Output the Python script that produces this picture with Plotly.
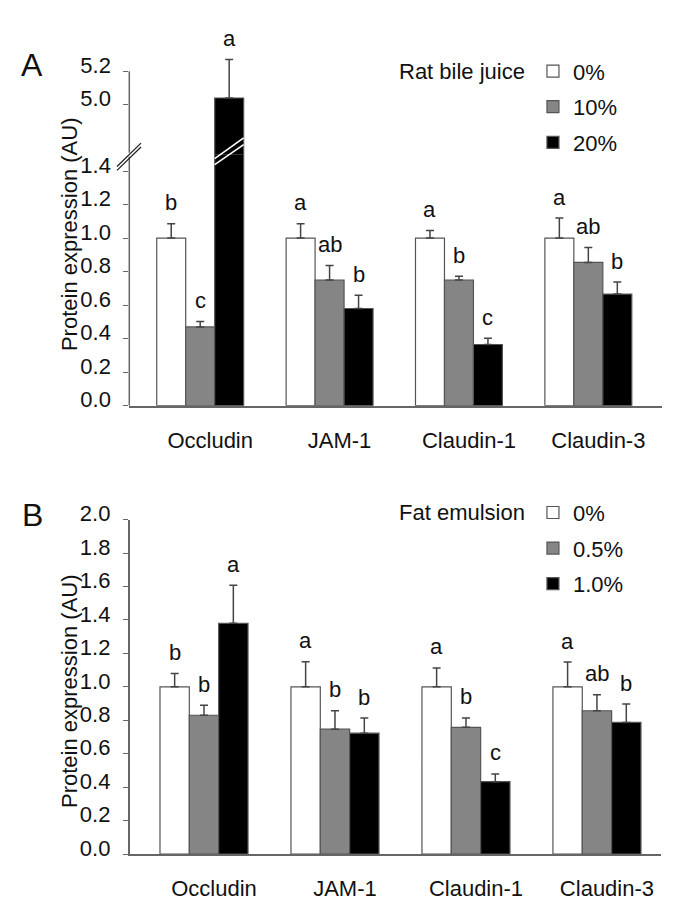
import plotly.graph_objects as go

# ---------------- data ----------------
categories = ["Occludin", "JAM-1", "Claudin-1", "Claudin-3"]

# Panel A : rat bile juice
a_title = "Rat bile juice"
a_groups = ["0%", "10%", "20%"]
a_mean_0 = [1.0, 1.0, 1.0, 1.0]
a_err_0 = [0.085, 0.085, 0.045, 0.12]
a_mean_10 = [0.47, 0.75, 0.75, 0.855]
a_err_10 = [0.033, 0.087, 0.023, 0.089]
a_mean_20 = [5.04, 0.58, 0.365, 0.666]
a_err_20 = [0.23, 0.079, 0.037, 0.072]
a_let_0 = ["b", "a", "a", "a"]
a_let_10 = ["c", "ab", "b", "ab"]
a_let_20 = ["a", "b", "c", "b"]
a_ticks_low = [0.0, 0.2, 0.4, 0.6, 0.8, 1.0, 1.2, 1.4]
a_ticks_high = [5.0, 5.2]

# Panel B : fat emulsion
b_title = "Fat emulsion"
b_groups = ["0%", "0.5%", "1.0%"]
b_mean_0 = [1.0, 1.0, 1.0, 1.0]
b_err_0 = [0.08, 0.15, 0.113, 0.148]
b_mean_05 = [0.83, 0.747, 0.758, 0.857]
b_err_05 = [0.06, 0.11, 0.056, 0.096]
b_mean_10 = [1.38, 0.723, 0.433, 0.787]
b_err_10 = [0.227, 0.09, 0.046, 0.11]
b_let_0 = ["b", "a", "a", "a"]
b_let_05 = ["b", "b", "b", "ab"]
b_let_10 = ["a", "b", "c", "b"]
b_ticks = [0.0, 0.2, 0.4, 0.6, 0.8, 1.0, 1.2, 1.4, 1.6, 1.8, 2.0]

# ---------------- style ----------------
OFF = 8                      # default page margin of the html body
W, H = 685 - 2 * OFF, 917 - 2 * OFF
FONT = "Liberation Sans, Arial, sans-serif"
FS = 22
fills = ["#ffffff", "#858585", "#000000"]
EDGE = "#555555"
AXC = "#666666"
BARGAP = 0.328
nb = 3
bw = (1 - BARGAP) / nb


def px(x):
    return (x - OFF) / W


def py(y):
    return 1 - (y - OFF) / H


# layout in page pixels
A_x0, A_x1 = 129.3, 661.7
A_low = (140.0, 398.5)
A_high = (28.6, 140.0)
A_low_rng = [0, 1.5]
A_high_rng = [4.704, 5.35]
B_x0, B_x1 = 129.6, 661.0
B_y = (515.7, 859.7)
B_rng = [0, 2.0]

fig = go.Figure()

a_means = [a_mean_0, a_mean_10, a_mean_20]
a_errs = [a_err_0, a_err_10, a_err_20]
a_lets = [a_let_0, a_let_10, a_let_20]
b_means = [b_mean_0, b_mean_05, b_mean_10]
b_errs = [b_err_0, b_err_05, b_err_10]
b_lets = [b_let_0, b_let_05, b_let_10]


def err(e):
    return dict(type="data", array=e, arrayminus=[0] * len(e), symmetric=False,
                color="#444444", thickness=1.5, width=4)


for j in range(3):
    for yax, show in (("y", True), ("y2", False)):
        fig.add_trace(go.Bar(
            x=categories, y=a_means[j], name=a_groups[j], xaxis="x", yaxis=yax,
            marker=dict(color=fills[j], line=dict(color=EDGE, width=1.2)),
            error_y=err(a_errs[j]), showlegend=show, legend="legend",
            legendgroup="a" + str(j)))
for j in range(3):
    fig.add_trace(go.Bar(
        x=categories, y=b_means[j], name=b_groups[j], xaxis="x2", yaxis="y3",
        marker=dict(color=fills[j], line=dict(color=EDGE, width=1.2)),
        error_y=err(b_errs[j]), legend="legend2", legendgroup="b" + str(j)))

ann = []
# significance letters
for j in range(3):
    for i in range(len(categories)):
        top = a_means[j][i] + a_errs[j][i]
        yr = "y2" if top > A_low_rng[1] else "y"
        ann.append(dict(x=i + (j - 1) * bw, y=top, xref="x", yref=yr, text=a_lets[j][i],
                        showarrow=False, yshift=21, yanchor="middle",
                        font=dict(size=FS, color="#111", family=FONT)))
        topb = b_means[j][i] + b_errs[j][i]
        ann.append(dict(x=i + (j - 1) * bw, y=topb, xref="x2", yref="y3", text=b_lets[j][i],
                        showarrow=False, yshift=21, yanchor="middle",
                        font=dict(size=FS, color="#111", family=FONT)))

# axis titles and panel letters
for yc in (222, 692):
    ann.append(dict(x=px(69), y=py(yc), xref="paper", yref="paper", text="Protein expression (AU)",
                    textangle=-90, showarrow=False, xanchor="center", yanchor="middle",
                    font=dict(size=FS, color="#111", family=FONT)))
for lab, (lx, ly) in (("A", (32.5, 48)), ("B", (32.7, 511))):
    ann.append(dict(x=px(lx), y=py(ly), xref="paper", yref="paper", text=lab, showarrow=False,
                    xanchor="center", yanchor="middle", font=dict(size=32, color="#111", family=FONT)))

shapes = []
# panel A broken y axis line
shapes.append(dict(type="line", xref="paper", yref="y", x0=px(A_x0), x1=px(A_x0), y0=0, y1=1.485,
                   line=dict(color=AXC, width=1.5)))
shapes.append(dict(type="line", xref="paper", yref="y2", x0=px(A_x0), x1=px(A_x0), y0=4.713, y1=5.2,
                   line=dict(color=AXC, width=1.5)))
for dy in (0, 4):
    shapes.append(dict(type="line", xref="paper", yref="paper", x0=px(117), x1=px(141),
                       y0=py(152.5 + dy), y1=py(128.5 + dy), line=dict(color="#222", width=1.3)))
# white break marks across the tall bar
bx0, bx1 = 0 + 0.5 * bw, 0 + 1.5 * bw
for (yl, yr_) in ((150.5, 130.0), (144.5, 123.0)):
    shapes.append(dict(type="line", xref="x", yref="paper", x0=bx0, x1=bx1,
                       y0=py(yl), y1=py(yr_), line=dict(color="white", width=1.6)))

tickfont = dict(size=FS, color="#111", family=FONT)
yax_common = dict(showgrid=False, zeroline=False, ticks="outside", ticklen=5, tickwidth=1.3,
                  tickcolor=AXC, tickfont=tickfont, tickformat=".1f", ticklabelstandoff=8,
                  ticklabelshift=-6)
xax_common = dict(showgrid=False, zeroline=False, showline=True, linecolor=AXC, linewidth=1.5,
                  ticks="", tickfont=tickfont, ticklabelstandoff=14, ticklabelshift=10,
                  type="category")

fig.update_layout(
    width=W, height=H, autosize=False,
    margin=dict(l=0, r=0, t=0, b=0),
    paper_bgcolor="white", plot_bgcolor="rgba(0,0,0,0)",
    barmode="group", bargap=BARGAP, bargroupgap=0,
    font=dict(family=FONT, size=FS, color="#111"),
    xaxis=dict(domain=[px(A_x0), px(A_x1)], anchor="y", range=[-0.548, 3.567], **xax_common),
    yaxis=dict(domain=[py(A_low[1]), py(A_low[0])], anchor="x", range=A_low_rng,
               tickvals=a_ticks_low, showline=False, **yax_common),
    yaxis2=dict(domain=[py(A_high[1]), py(A_high[0])], anchor="x", range=A_high_rng,
                tickvals=a_ticks_high, showline=False, **yax_common),
    xaxis2=dict(domain=[px(B_x0), px(B_x1)], anchor="y3", range=[-0.568, 3.489], **xax_common),
    yaxis3=dict(domain=[py(B_y[1]), py(B_y[0])], anchor="x2", range=B_rng, tickvals=b_ticks,
                showline=True, linecolor=AXC, linewidth=1.5, **yax_common),
    legend=dict(x=px(397), y=py(33), xanchor="left", yanchor="top", bgcolor="rgba(0,0,0,0)",
                font=dict(size=FS, family=FONT, color="#111"), tracegroupgap=4,
                title=dict(text=a_title, side="left", font=dict(size=FS, family=FONT, color="#111"))),
    legend2=dict(x=px(397), y=py(487), xanchor="left", yanchor="top", bgcolor="rgba(0,0,0,0)",
                 font=dict(size=FS, family=FONT, color="#111"), tracegroupgap=4,
                 title=dict(text=b_title, side="left", font=dict(size=FS, family=FONT, color="#111"))),
    annotations=ann, shapes=shapes,
)

fig.write_html("out.html")
